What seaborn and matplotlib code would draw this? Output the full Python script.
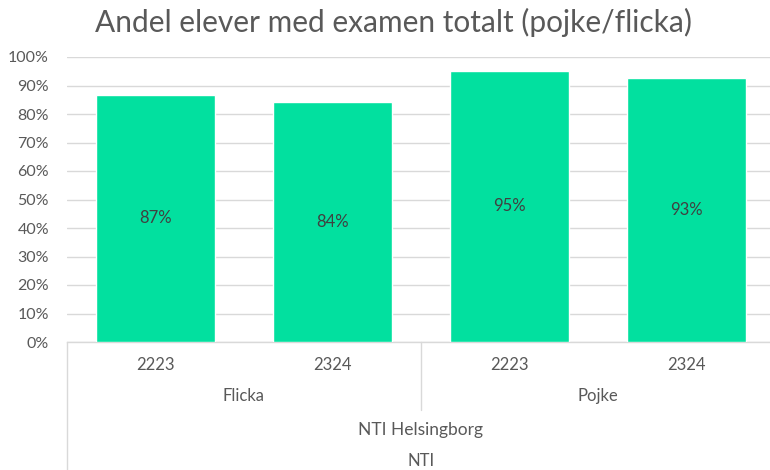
import matplotlib
matplotlib.use("Agg")
import matplotlib.pyplot as plt
import seaborn as sns
import pandas as pd
from matplotlib.ticker import PercentFormatter

# Data
years = ["2223", "2324", "2223", "2324"]
genders = ["Flicka", "Flicka", "Pojke", "Pojke"]
values = [0.867, 0.842, 0.951, 0.928]
school = "NTI Helsingborg"
org = "NTI"
title = "Andel elever med examen totalt (pojke/flicka)"

sns.set_theme(style="white")
plt.rcParams["font.family"] = ["Lato", "DejaVu Sans"]

text_col = "#595959"
bar_col = "#02E09F"

df = pd.DataFrame({"key": [f"{g}|{y}" for g, y in zip(genders, years)],
                   "value": values})

fig = plt.figure(figsize=(7.7, 4.7), dpi=100)
ax = fig.add_axes([67/770, 128/470, 708/770, 285/470])

sns.barplot(data=df, x="key", y="value", order=list(df["key"]), color=bar_col,
            width=0.667, saturation=1, ax=ax, zorder=3)

ax.set_ylim(0, 1)
ax.set_xlim(-0.5, 3.5)
ax.set_yticks([i/10 for i in range(11)])
ax.yaxis.set_major_formatter(PercentFormatter(1.0, decimals=0))
ax.tick_params(axis="y", labelsize=11.5, colors=text_col, length=0, pad=13)
ax.set_xticks([])
ax.set_xlabel("")
ax.set_ylabel("")
ax.grid(axis="y", color="#d9d9d9", linewidth=1, zorder=0)
for s in ["top", "right", "left"]:
    ax.spines[s].set_visible(False)
ax.spines["bottom"].set_color("#d9d9d9")
ax.spines["bottom"].set_linewidth(1)

# value labels
for i, v in enumerate(values):
    ax.text(i, v/2, f"{round(v*100):.0f}%", ha="center", va="center",
            fontsize=12, color="#404040", zorder=4)

tr = ax.get_xaxis_transform()
# level 1: years
for i, y in enumerate(years):
    ax.text(i, -0.081, y, transform=tr, ha="center", va="center",
            fontsize=12, color=text_col)
# level 2: genders
for g in dict.fromkeys(genders):
    idx = [i for i, gg in enumerate(genders) if gg == g]
    ax.text(sum(idx)/len(idx), -0.189, g, transform=tr, ha="center", va="center",
            fontsize=12, color=text_col)
# level 3 and 4
ax.text(1.5, -0.309, school, transform=tr, ha="center", va="center",
        fontsize=12.5, color=text_col)
ax.text(1.5, -0.418, org, transform=tr, ha="center", va="center",
        fontsize=12, color=text_col)

# separator lines
ax.plot([-0.5, -0.5], [0, -0.45], transform=tr, color="#d9d9d9", lw=1, clip_on=False)
ax.plot([1.5, 1.5], [0, -0.24], transform=tr, color="#d9d9d9", lw=1, clip_on=False)

fig.text(394/770, 1 - 22/470, title, ha="center", va="center",
         fontsize=21.5, color=text_col)

fig.savefig("out.png", dpi=100, facecolor="white")
